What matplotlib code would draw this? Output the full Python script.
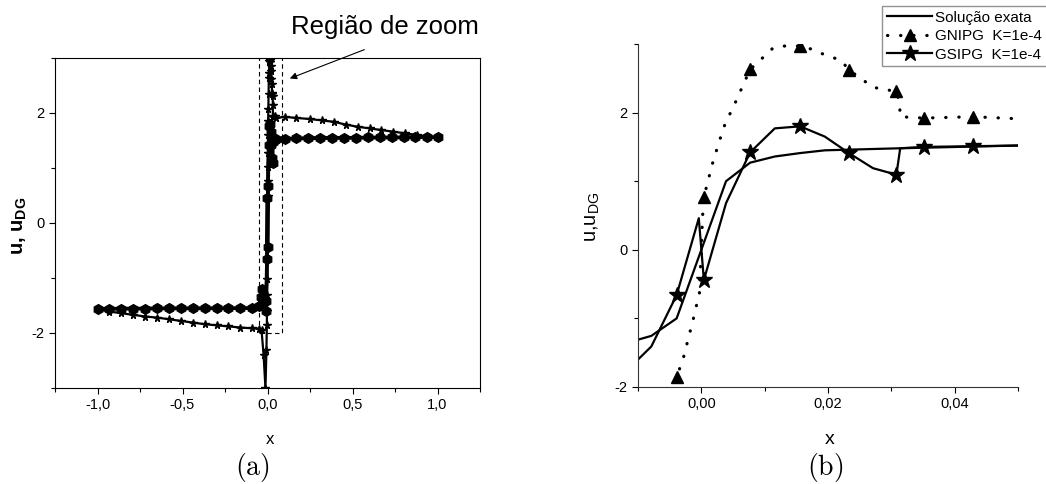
import numpy as np
import matplotlib.pyplot as plt
from matplotlib.patches import Rectangle
from matplotlib.ticker import MultipleLocator, FuncFormatter

plt.rcParams['font.family'] = ['Liberation Sans', 'DejaVu Sans']
plt.rcParams['mathtext.default'] = 'regular'
plt.rcParams['axes.unicode_minus'] = False

# exact solution
x_exact = [-1.0, -0.5, -0.1, -0.05, -0.02, -0.01, -0.0079, -0.0039, 0.0, 0.0039, 0.0077,
           0.0116, 0.0156, 0.0195, 0.0233, 0.0314, 0.05, 0.1, 0.5, 1.0]
u_exact = [-1.56, -1.555, -1.55, -1.5, -1.4, -1.31, -1.255, -1.0, 0.0, 1.0, 1.27,
           1.36, 1.41, 1.45, 1.46, 1.48, 1.52, 1.53, 1.55, 1.56]

# GSIPG K=1e-4
x_gsipg = [-1.0, -0.93, -0.86, -0.79, -0.72, -0.65, -0.58, -0.51, -0.44, -0.37, -0.30,
           -0.23, -0.16, -0.09, -0.05, -0.04, -0.032, -0.022, -0.01, -0.0079, -0.0039,
           -0.0004, 0.0004, 0.0039, 0.0077, 0.0116, 0.0156, 0.0195, 0.0233, 0.0271,
           0.0308, 0.0314, 0.0351, 0.0429, 0.05, 0.1, 0.17, 0.24, 0.31, 0.38, 0.45,
           0.52, 0.59, 0.66, 0.73, 0.80, 0.87, 0.94, 1.0]
u_gsipg = [-1.56, -1.56, -1.555, -1.555, -1.555, -1.55, -1.55, -1.55, -1.55, -1.55, -1.55,
           -1.55, -1.55, -1.545, -1.5, -1.35, -1.2, -1.4, -1.6, -1.41, -0.66,
           0.46, -0.44, 0.68, 1.42, 1.77, 1.80, 1.65, 1.41, 1.19,
           1.095, 1.48, 1.50, 1.51, 1.52, 1.53, 1.54, 1.545, 1.55, 1.55, 1.55,
           1.55, 1.555, 1.555, 1.555, 1.555, 1.56, 1.56, 1.56]

# GNIPG K=1e-4
x_gnipg = [-1.0, -0.93, -0.86, -0.79, -0.72, -0.65, -0.58, -0.51, -0.44, -0.37, -0.30,
           -0.23, -0.16, -0.09, -0.05, -0.035, -0.023, -0.012, -0.0062, -0.0039, -0.0029,
           -0.0021, -0.0013, -0.0003, 0.0002, 0.0004, 0.0011, 0.0018, 0.0029, 0.0038,
           0.005, 0.0063, 0.0077, 0.0089, 0.0113, 0.0129, 0.0156, 0.0176, 0.0193, 0.0221,
           0.0233, 0.0247, 0.0271, 0.0287, 0.0308, 0.0313, 0.0314, 0.0351, 0.0429, 0.05,
           0.1, 0.17, 0.25, 0.32, 0.39, 0.46, 0.53, 0.60, 0.67, 0.74, 0.81, 0.88, 0.94, 1.0]
u_gnipg = [-1.57, -1.61, -1.64, -1.67, -1.70, -1.72, -1.75, -1.78, -1.81, -1.84, -1.86,
           -1.88, -1.90, -1.915, -1.92, -1.95, -2.4, -3.0, -2.3, -1.85, -1.6,
           -1.31, -1.02, -0.63, 0.49, 0.77, 1.02, 1.27, 1.6, 1.85,
           2.07, 2.34, 2.63, 2.73, 2.94, 2.97, 2.97, 2.92, 2.85, 2.76,
           2.62, 2.53, 2.37, 2.34, 2.31, 2.14, 1.94, 1.92, 1.94, 1.91,
           1.93, 1.91, 1.89, 1.865, 1.84, 1.79, 1.75, 1.72, 1.69, 1.66, 1.63, 1.60, 1.57, 1.55]

# marker positions in the zoomed panel
x_marks_b = [-0.0039, 0.0004, 0.0077, 0.0156, 0.0233, 0.0308, 0.0351, 0.0429]
idx_gs = [i for i, v in enumerate(x_gsipg) if v in x_marks_b]
idx_gn = [i for i, v in enumerate(x_gnipg) if v in x_marks_b]

W, H = 1046, 484
def box(x0, y0, x1, y1):
    return [x0 / W, 1 - y1 / H, (x1 - x0) / W, (y1 - y0) / H]

fig = plt.figure(figsize=(W / 100, H / 100), dpi=100)
ax1 = fig.add_axes(box(55, 58, 480, 388))
ax2 = fig.add_axes(box(638, 44, 1018, 387))

comma1 = FuncFormatter(lambda v, p: f'{v:.1f}'.replace('.', ','))
comma2 = FuncFormatter(lambda v, p: f'{v:.2f}'.replace('.', ','))
intfmt = FuncFormatter(lambda v, p: f'{v:.0f}')

# ---- panel (a)
ax1.plot(x_exact, u_exact, color='black', lw=2.5)
ax1.plot(x_gsipg, u_gsipg, color='black', lw=2.5, marker='h', ms=7)
ax1.plot(x_gnipg, u_gnipg, color='black', lw=1.6, marker='*', ms=5.5)
ax1.add_patch(Rectangle((-0.05, -2), 0.135, 5, fill=False, ls=(0, (4, 3)), lw=0.8, ec='black'))
ax1.set_xlim(-1.25, 1.25)
ax1.set_ylim(-3, 3)
ax1.xaxis.set_major_locator(MultipleLocator(0.5))
ax1.xaxis.set_minor_locator(MultipleLocator(0.25))
ax1.yaxis.set_major_locator(MultipleLocator(2))
ax1.yaxis.set_minor_locator(MultipleLocator(1))
ax1.xaxis.set_major_formatter(comma1)
ax1.yaxis.set_major_formatter(intfmt)
ax1.annotate('', xy=(0.116, 2.61), xytext=(0.585, 3.17),
             arrowprops=dict(arrowstyle='-|>', lw=0.8, color='black', mutation_scale=10),
             annotation_clip=False)

# ---- panel (b)
ax2.plot(x_exact, u_exact, color='black', lw=1.6, label='Solução exata')
ax2.plot(x_gnipg, u_gnipg, color='black', lw=2.3, ls=(0, (0.1, 4)), dash_capstyle='round',
         marker='^', ms=8, markevery=idx_gn, label='GNIPG  K=1e-4')
ax2.plot(x_gsipg, u_gsipg, color='black', lw=1.6, marker='*', ms=12,
         markevery=idx_gs, label='GSIPG  K=1e-4')
ax2.set_xlim(-0.01, 0.05)
ax2.set_ylim(-2, 3)
ax2.xaxis.set_major_locator(MultipleLocator(0.02))
ax2.xaxis.set_minor_locator(MultipleLocator(0.01))
ax2.yaxis.set_major_locator(MultipleLocator(2))
ax2.yaxis.set_minor_locator(MultipleLocator(1))
ax2.xaxis.set_major_formatter(comma2)
ax2.yaxis.set_major_formatter(intfmt)
ax2.spines['top'].set_visible(False)
ax2.spines['right'].set_visible(False)
for s in ['left', 'bottom']:
    ax2.spines[s].set_color('#333333')

for ax in (ax1, ax2):
    ax.tick_params(which='major', direction='out', length=4, width=0.8, labelsize=10.5)
    ax.tick_params(which='minor', direction='out', length=3, width=0.8)

fig.legend(loc='upper left', bbox_to_anchor=(882 / W, 1 - 6 / H), fontsize=11,
           frameon=True, fancybox=False, edgecolor='#777777', handlelength=3,
           borderpad=0.3, labelspacing=0.3, handletextpad=0.2, borderaxespad=0)

# labels
fig.text(385 / W, 1 - 27 / H, 'Região de zoom', ha='center', va='center', fontsize=18.5)
fig.text(20 / W, 1 - 226 / H, r'u, u$_{DG}$', rotation=90, ha='center', va='center',
         fontsize=14.5, fontweight='bold')
fig.text(593 / W, 1 - 217 / H, r'u,u$_{DG}$', rotation=90, ha='center', va='center',
         fontsize=14.5)
fig.text(270 / W, 1 - 440 / H, 'x', ha='center', va='center', fontsize=12)
fig.text(830 / W, 1 - 440 / H, 'x', ha='center', va='center', fontsize=14)
fig.text(252 / W, 1 - 468 / H, r'$\mathrm{(a)}$', ha='center', va='center', fontsize=20,
         math_fontfamily='cm')
fig.text(825 / W, 1 - 468 / H, r'$\mathrm{(b)}$', ha='center', va='center', fontsize=20,
         math_fontfamily='cm')

fig.savefig('out.png', dpi=100)
